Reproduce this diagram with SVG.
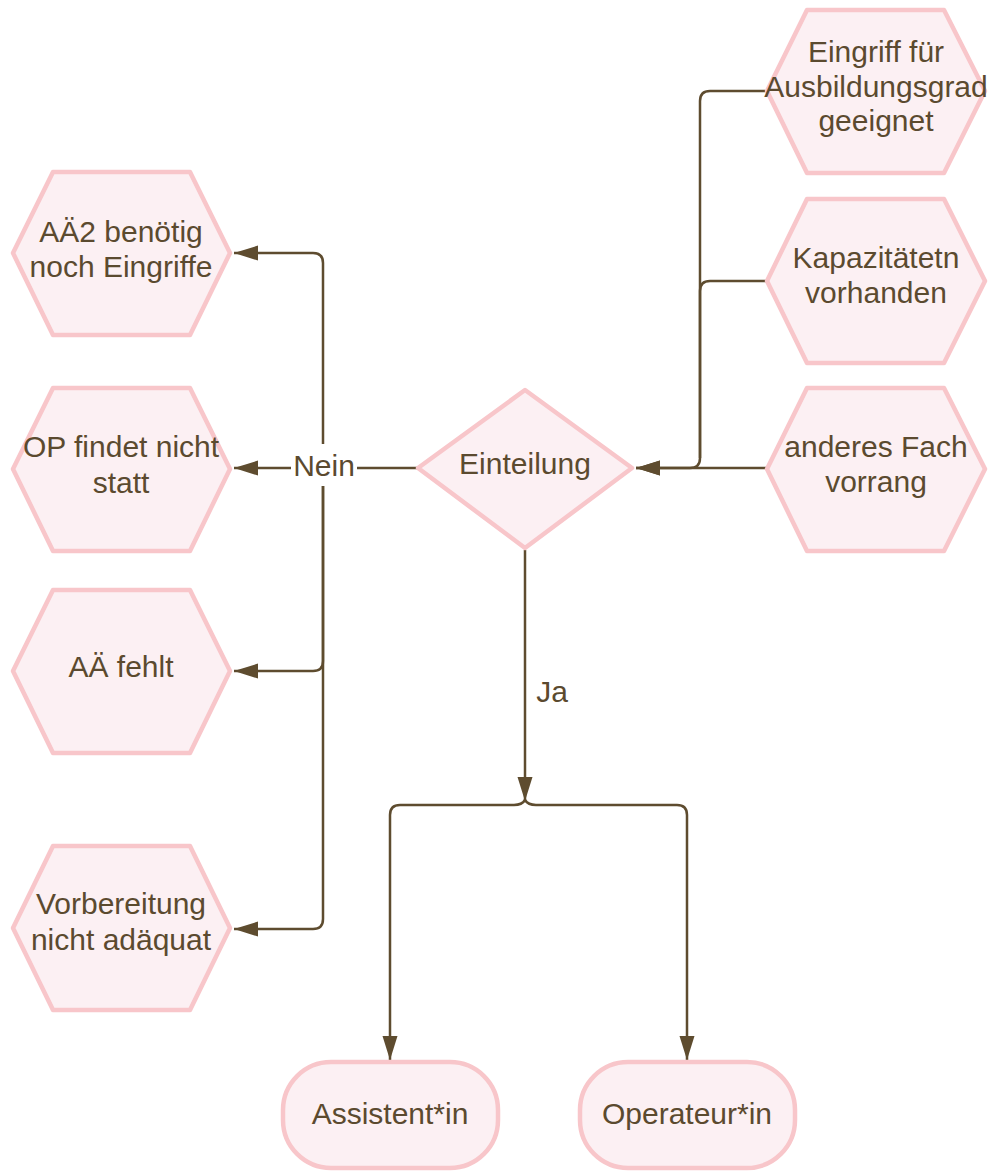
<svg xmlns="http://www.w3.org/2000/svg" width="994" height="1172" viewBox="0 0 994 1172">
  <style>
    .shape { fill: #fcf0f3; stroke: #f8c6ca; stroke-width: 4.5; stroke-linejoin: round; }
    .txt { font-family: "Liberation Sans", Arial, sans-serif; font-size: 30px; fill: #5b4a2f; text-anchor: middle; }
    .conn { fill: none; stroke: #5e4c2f; stroke-width: 2.5; }
  </style>
  <defs>
    <marker id="arrow" markerUnits="userSpaceOnUse" markerWidth="26" markerHeight="16" refX="24" refY="7.5" orient="auto">
      <path d="M0,0 L24,7.5 L0,15 z" fill="#5e4c2f"/>
    </marker>
  </defs>
  <rect width="994" height="1172" fill="#ffffff"/>

  <!-- connectors -->
  <g id="connectors">
    <!-- Nein branch to the left -->
    <path class="conn" d="M418 468 L234 468" marker-end="url(#arrow)"/>
    <path class="conn" d="M323 468 L323 263 Q323 253 313 253 L234 253" marker-end="url(#arrow)"/>
    <path class="conn" d="M323 468 L323 661 Q323 671 313 671 L234 671" marker-end="url(#arrow)"/>
    <path class="conn" d="M323 468 L323 919 Q323 929 313 929 L234 929" marker-end="url(#arrow)"/>
    <rect x="291" y="444" width="66" height="42" fill="#ffffff"/>
    <text class="txt" x="324" y="476">Nein</text>

    <!-- conditions on the right feeding into Einteilung -->
    <path class="conn" d="M765 91 L710 91 Q700 91 700 101 L700 458 Q700 468 690 468 L636 468" marker-end="url(#arrow)"/>
    <path class="conn" d="M767 281 L710 281 Q700 281 700 291 L700 458"/>
    <path class="conn" d="M767 468 L636 468" marker-end="url(#arrow)"/>

    <!-- Ja branch downwards -->
    <path class="conn" d="M525 550 L525 801" marker-end="url(#arrow)"/>
    <text class="txt" x="552" y="702">Ja</text>
    <path class="conn" d="M525 800 Q522 805 514 805 L400 805 Q390 805 390 815 L390 1060" marker-end="url(#arrow)"/>
    <path class="conn" d="M525 800 Q528 805 536 805 L677 805 Q687 805 687 815 L687 1060" marker-end="url(#arrow)"/>
  </g>

  <!-- left outcomes -->
  <g id="node-aae2">
    <polygon class="shape" points="13,253 53,172 190,172 230,253 190,335 53,335"/>
    <text class="txt" x="121" y="242">AÄ2 benötig</text>
    <text class="txt" x="121" y="277">noch Eingriffe</text>
  </g>
  <g id="node-op">
    <polygon class="shape" points="13,469 53,388 190,388 230,469 190,551 53,551"/>
    <text class="txt" x="121" y="457">OP findet nicht</text>
    <text class="txt" x="121" y="493">statt</text>
  </g>
  <g id="node-aefehlt">
    <polygon class="shape" points="13,671 53,590 190,590 230,671 190,753 53,753"/>
    <text class="txt" x="121" y="677">AÄ fehlt</text>
  </g>
  <g id="node-vorbereitung">
    <polygon class="shape" points="13,928 53,846 190,846 230,928 190,1010 53,1010"/>
    <text class="txt" x="121" y="914">Vorbereitung</text>
    <text class="txt" x="121" y="950">nicht adäquat</text>
  </g>

  <!-- decision -->
  <g id="node-einteilung">
    <polygon class="shape" points="525,390 632,468 525,548 418,468"/>
    <text class="txt" x="525" y="474">Einteilung</text>
  </g>

  <!-- right conditions -->
  <g id="node-eingriff">
    <polygon class="shape" points="767,91 807,10 944,10 985,91 944,173 807,173"/>
    <text class="txt" x="876" y="62">Eingriff für</text>
    <text class="txt" x="876" y="97">Ausbildungsgrad</text>
    <text class="txt" x="876" y="131">geeignet</text>
  </g>
  <g id="node-kapazitaet">
    <polygon class="shape" points="767,281 807,199 944,199 985,281 944,363 807,363"/>
    <text class="txt" x="876" y="268">Kapazitätetn</text>
    <text class="txt" x="876" y="303">vorhanden</text>
  </g>
  <g id="node-fach">
    <polygon class="shape" points="767,469 807,388 944,388 985,469 944,551 807,551"/>
    <text class="txt" x="876" y="457">anderes Fach</text>
    <text class="txt" x="876" y="492">vorrang</text>
  </g>

  <!-- results -->
  <g id="node-assistent">
    <rect class="shape" x="283" y="1062" width="215" height="106" rx="48" ry="48"/>
    <text class="txt" x="390" y="1124">Assistent*in</text>
  </g>
  <g id="node-operateur">
    <rect class="shape" x="580" y="1062" width="215" height="106" rx="48" ry="48"/>
    <text class="txt" x="687" y="1124">Operateur*in</text>
  </g>
</svg>
